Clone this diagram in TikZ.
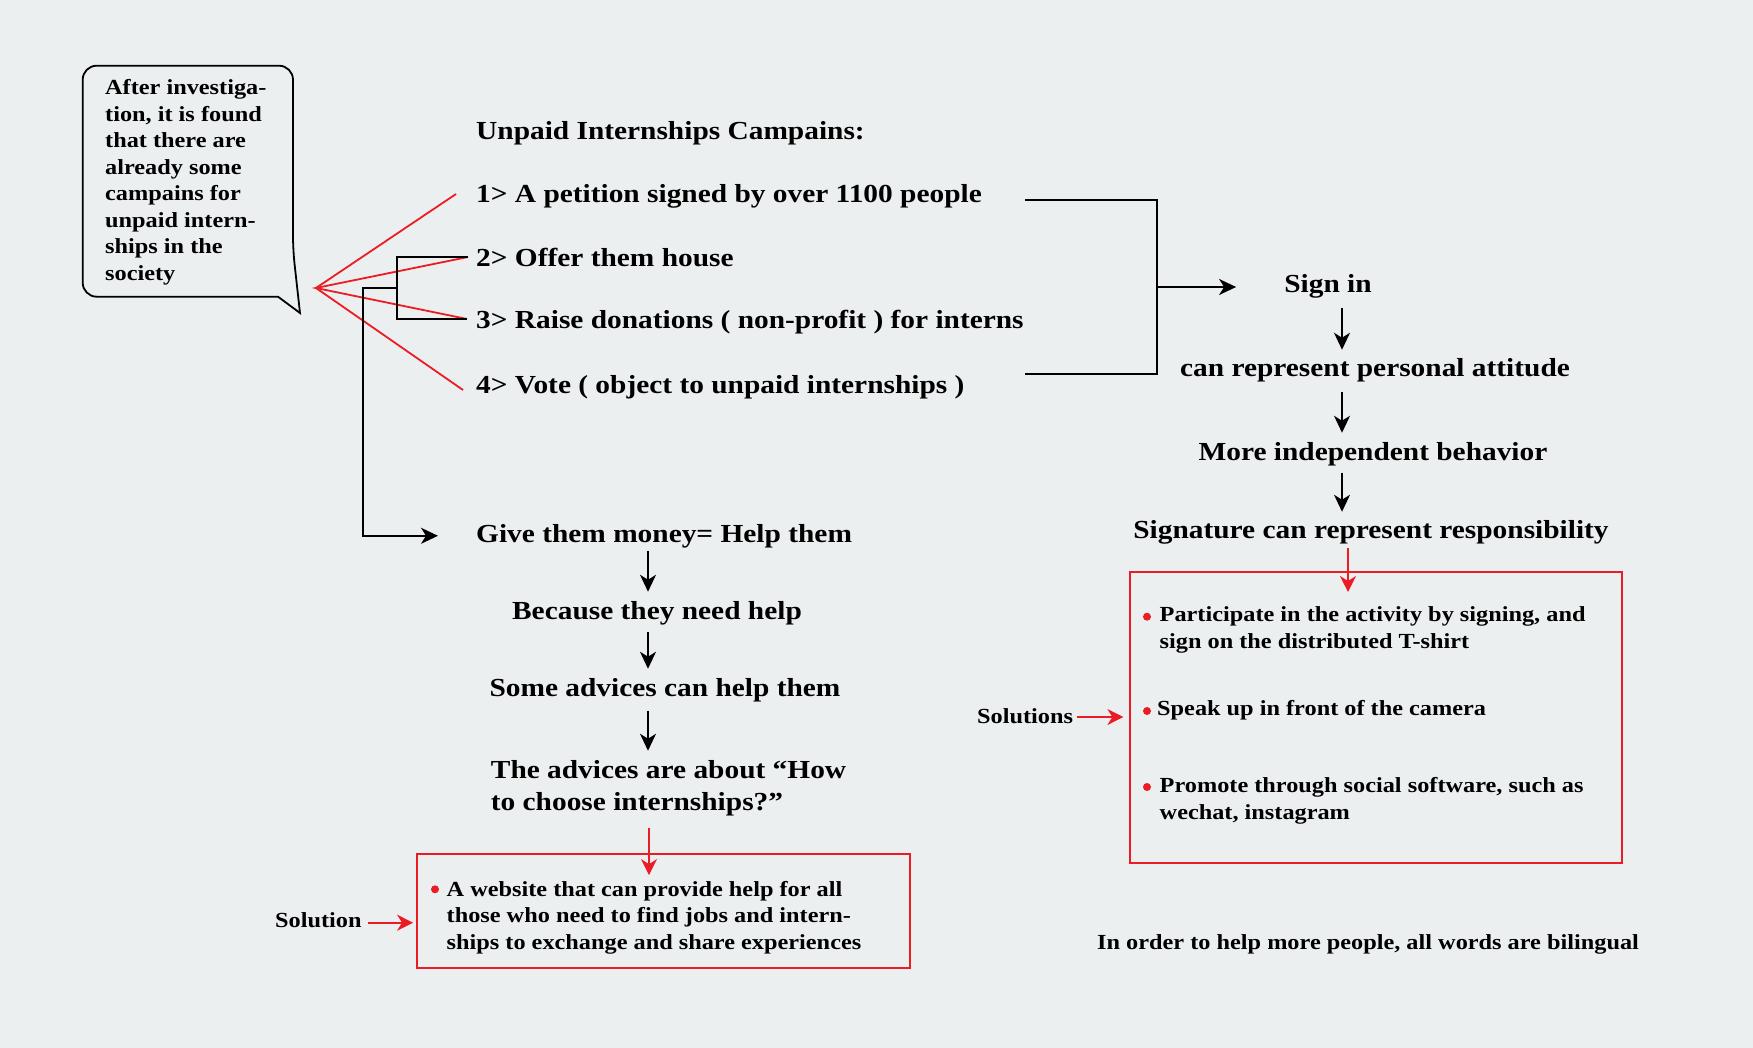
\documentclass[tikz,border=0pt]{standalone}
\usepackage{fontspec}
\setmainfont{Liberation Serif}[FakeStretch=1.13]
\usetikzlibrary{arrows.meta,calc}
\definecolor{bg}{RGB}{236,239,240}
\definecolor{rd}{RGB}{236,28,36}
\newcommand\bigf{\fontsize{26}{32}\selectfont\bfseries}
\newcommand\smf{\fontsize{21.5}{26.5}\selectfont\bfseries}
\begin{document}
\begin{tikzpicture}[x=1pt,y=-1pt,
  txt/.style={inner sep=0pt, font=\bigf},
  sm/.style={inner sep=0pt, font=\smf},
  ln/.style={line width=1.8pt, black},
  rl/.style={line width=1.8pt, rd},
  arr/.style={ln, -{Stealth[length=17pt,width=16pt,inset=5pt]}},
  rarr/.style={rl, -{Stealth[length=16pt,width=16pt,inset=5pt]}},
  dot/.style={circle, fill=rd, inner sep=0pt, minimum size=8pt}]
\fill[bg] (0,0) rectangle (1753,1048);
\useasboundingbox (0,0) rectangle (1753,1048);

% speech bubble
\draw[ln] (278,296.7) [rounded corners=14pt] -- (82.7,296.7) -- (82.7,65.7) -- (293,65.7) -- (293,250) [sharp corners] -- (300,313) -- cycle;
\node[sm, anchor=base west, align=left] (bubble) at (105,280.2)
  {After investiga-\\tion, it is found\\that there are\\already some\\campains for\\unpaid intern-\\ships in the\\society};

% campaign list
\node[txt, anchor=base west] (title) at (476,140) {Unpaid Internships Campains:};
\node[txt, anchor=base west] (i1) at (476,203) {1> A petition signed by over 1100 people};
\node[txt, anchor=base west] (i2) at (476,266.5) {2> Offer them house};
\node[txt, anchor=base west] (i3) at (476,329) {3> Raise donations ( non-profit ) for interns};
\node[txt, anchor=base west] (i4) at (476,393) {4> Vote ( object to unpaid internships )};

% left chain
\node[txt, anchor=base west] (give) at (476,542) {Give them money= Help them};
\node[txt, anchor=base] (need) at (657,619) {Because they need help};
\node[txt, anchor=base] (adv) at (665,696) {Some advices can help them};
\node[txt, anchor=base west, align=left] (about) at (490.7,810) {The advices are about “How\\to choose internships?”};
\coordinate (lx) at (648,0);
\draw[arr, shorten <=3pt, shorten >=9pt] (give.south -| lx) -- (need.north -| lx);
\draw[arr, shorten <=7pt, shorten >=9pt] (need.south -| lx) -- (adv.north -| lx);
\draw[arr, shorten <=9pt, shorten >=9pt] (adv.south -| lx) -- (about.north -| lx);

% red fan
\coordinate (fan) at (316,288);
\coordinate (e1) at (456,194);
\coordinate (e2) at (468,257);
\coordinate (e3) at (467,319);
\coordinate (e4) at (463,390);
\draw[rl] (e1) -- (fan) -- (e4);
\draw[rl] (e2) -- (fan) -- (e3);

% black bracket on the left
\coordinate (bl) at (397,288);
\draw[ln] (e2) -- (397,257) -- (397,319) -- (e3);
\draw[arr, shorten >=38pt] (bl) -- (363,288) |- (give.west);

% right bracket
\coordinate (rb) at (1157,287);
\draw[ln] (1025,200) -- (1157,200) -- (1157,374) -- (1025,374);

% right chain
\node[txt, anchor=base] (signin) at (1328,293) {Sign in};
\node[txt, anchor=base] (att) at (1375,377) {can represent personal attitude};
\node[txt, anchor=base] (beh) at (1373,460) {More independent behavior};
\node[txt, anchor=base] (sig) at (1371,538) {Signature can represent responsibility};
\draw[arr, shorten >=48pt] (rb) -- (signin.west |- rb);
\coordinate (ax) at (1342,0);
\draw[arr, shorten <=9pt, shorten >=9pt] (signin.south -| ax) -- (att.north -| ax);
\draw[arr, shorten <=9pt, shorten >=9pt] (att.south -| ax) -- (beh.north -| ax);
\draw[arr, shorten <=7pt, shorten >=8pt] (beh.south -| ax) -- (sig.north -| ax);

% right solution box
\node[draw=rd, line width=1.8pt, minimum width=492pt, minimum height=291pt, inner sep=0pt] (rbox) at (1376.3,717.4) {};
\coordinate (rx) at (1348,0);
\draw[rarr] ($(sig.south -| rx)+(0,4)$) -- ($(rbox.north -| rx)+(0,21)$);
\node[dot] (d1) at (1147,616.7) {};
\node[dot] (d2) at (1147,711) {};
\node[dot] (d3) at (1147,787) {};
\node[sm, anchor=base west, align=left] (s1) at (1159.5,648) {Participate in the activity by signing, and\\sign on the distributed T-shirt};
\node[sm, anchor=base west] (s2) at (1157,715) {Speak up in front of the camera};
\node[sm, anchor=base west, align=left] (s3) at (1159.5,819) {Promote through social software, such as\\wechat, instagram};
\node[sm, anchor=base west] (sols) at (977,723) {Solutions};
\draw[rarr, shorten <=4pt, shorten >=6pt] (sols.east |- 0,717) -- (rbox.west |- 0,717);

\node[sm, anchor=base west] (note) at (1097,949) {In order to help more people, all words are bilingual};

% left solution box
\node[draw=rd, line width=1.8pt, minimum width=493pt, minimum height=114pt, inner sep=0pt] (lbox) at (663.5,911) {};
\coordinate (lrx) at (649,0);
\draw[rarr, shorten <=12pt] (about.south -| lrx) -- ($(lbox.north -| lrx)+(0,22)$);
\node[dot] (d4) at (435,889.3) {};
\node[sm, anchor=base west, align=left] (web) at (446.5,949) {A website that can provide help for all\\those who need to find jobs and intern-\\ships to exchange and share experiences};
\node[sm, anchor=base west] (sol) at (275,927) {Solution};
\draw[rarr, shorten <=6pt, shorten >=3pt] (sol.east |- 0,922.7) -- (lbox.west |- 0,922.7);
\end{tikzpicture}
\end{document}
